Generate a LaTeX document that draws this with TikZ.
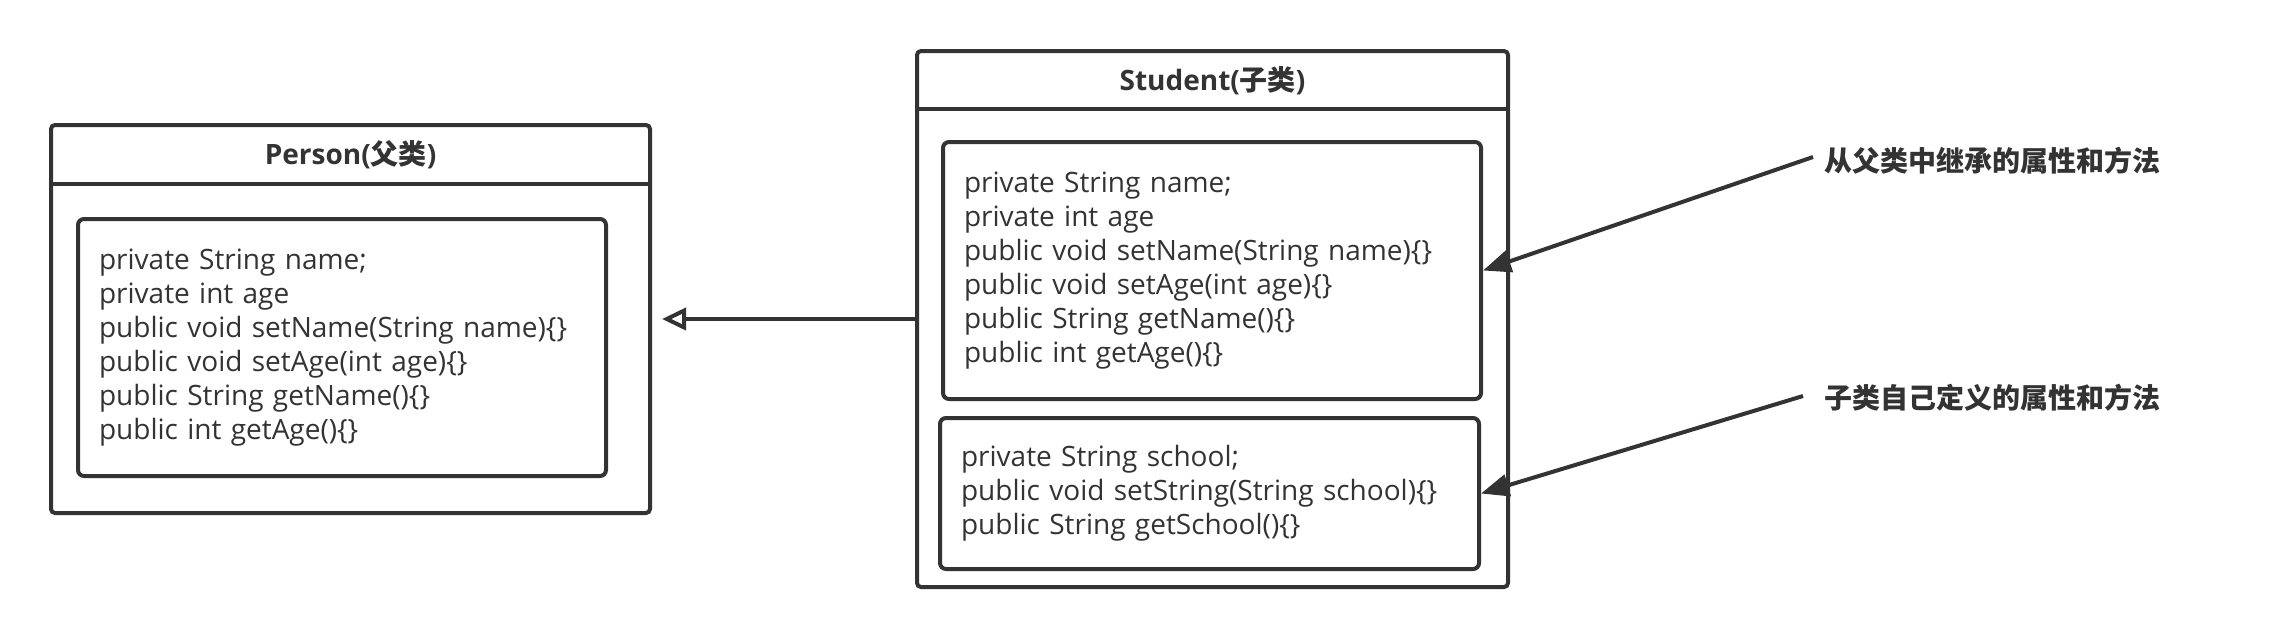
\documentclass[tikz,border=0pt]{standalone}
\usepackage{fontspec}
\setmainfont{Open Sans}
\newfontfamily\cjk{Noto Sans CJK SC}
\usetikzlibrary{arrows.meta}
\definecolor{ink}{HTML}{333333}
\tikzset{
  outerbox/.style={draw=ink, line width=4pt, rounded corners=4pt, inner sep=0pt},
  innerbox/.style={draw=ink, line width=4pt, rounded corners=6pt, inner sep=0pt, inner xsep=21pt, align=left, text=ink,
     font=\fontsize{28}{34}\selectfont},
  titletext/.style={text=ink, font=\fontsize{28}{32}\selectfont\bfseries},
  note/.style={text=ink, font=\fontsize{28}{32}\selectfont\cjk\bfseries, anchor=west, inner sep=0pt},
  conn/.style={draw=ink, line width=4pt},
}
\begin{document}
\begin{tikzpicture}[x=1pt,y=-1pt]
\useasboundingbox (0,0) rectangle (2274,638);
% Person
\node[outerbox, minimum width=599pt, minimum height=388pt] (person) at (350.5,319) {};
\draw[conn] (51,184) -- (650,184);
\node[titletext] (ptitle) at (350.5,155) {Person({\cjk 父类})};
\node[innerbox, text width=486pt, minimum height=257pt] (pin) at (342,347.5) {private String name;\\private int age\\public void setName(String name)\{\}\\public void setAge(int age)\{\}\\public String getName()\{\}\\public int getAge()\{\}};
% Student
\node[outerbox, minimum width=591pt, minimum height=536pt] (student) at (1212.5,319) {};
\draw[conn] (917,109) -- (1508,109);
\node[titletext] (stitle) at (1212.5,81) {Student({\cjk 子类})};
\node[innerbox, text width=496pt, minimum height=257pt] (sin1) at (1212,270.5) {private String name;\\private int age\\public void setName(String name)\{\}\\public void setAge(int age)\{\}\\public String getName()\{\}\\public int getAge()\{\}};
\node[innerbox, text width=497pt, minimum height=151pt] (sin2) at (1209.5,493.5) {private String school;\\public void setString(String school)\{\}\\public String getSchool()\{\}};
% inheritance
\draw[conn, -{Triangle[open, length=24pt, width=22pt, line width=4pt]}, shorten >=10pt] (student.west) -- (person.east);
% notes
\node[note] (n1) at (1824,161) {从父类中继承的属性和方法};
\node[note] (n2) at (1824,398) {子类自己定义的属性和方法};
\coordinate (a1) at (1813,157);
\coordinate (a2) at (1803,396);
\draw[conn, -{Triangle[length=28pt, width=22pt]}] (a1) -- (sin1.east);
\draw[conn, -{Triangle[length=28pt, width=22pt]}] (a2) -- (sin2.east);
\end{tikzpicture}
\end{document}
